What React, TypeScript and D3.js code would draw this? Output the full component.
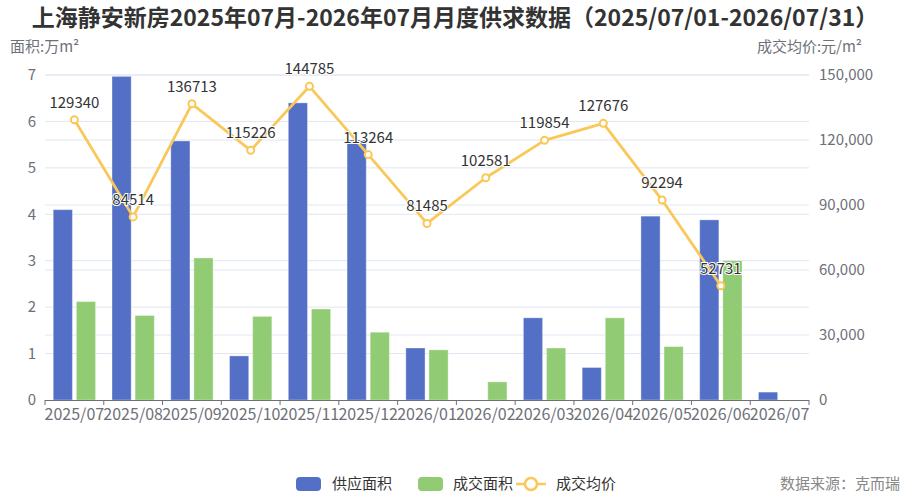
import { useEffect } from 'react';
import * as d3 from 'd3';

const months = [
  '2025/07', '2025/08', '2025/09', '2025/10', '2025/11', '2025/12', '2026/01',
  '2026/02', '2026/03', '2026/04', '2026/05', '2026/06', '2026/07',
];
// 万m²
const supplyArea = [4.1, 6.97, 5.58, 0.95, 6.4, 5.6, 1.12, 0, 1.77, 0.7, 3.96, 3.88, 0.17];
const dealArea = [2.12, 1.82, 3.06, 1.8, 1.96, 1.46, 1.08, 0.39, 1.12, 1.77, 1.15, 3.0, 0];
// 元/m²
const avgPrice: (number | null)[] = [
  129340, 84514, 136713, 115226, 144785, 113264, 81485, 102581, 119854, 127676, 92294, 52731, null,
];
const leftTicks = [0, 1, 2, 3, 4, 5, 6, 7];
const rightTicks = [0, 30000, 60000, 90000, 120000, 150000];

const W = 910;
const H = 500;
const FONT = '"Noto Sans CJK SC", "Noto Sans", sans-serif';
const BLUE = '#5470c6';
const GREEN = '#91cc75';
const YELLOW = '#fac858';
const AXIS = '#6e7079';
const GRID = '#e0e6f1';

export default function App() {
  useEffect(() => {
    document.body.style.margin = '0';
  }, []);

  const plot = { left: 45, right: 809, top: 75, bottom: 400 };

  const x = d3.scaleBand<string>().domain(months).range([plot.left, plot.right]).padding(0);
  const bw = x.bandwidth();
  const sub = d3.scaleBand<string>()
    .domain(['supply', 'deal'])
    .range([bw * 0.14, bw * 0.86])
    .paddingInner(0.17);
  const yL = d3.scaleLinear().domain([0, 7]).range([plot.bottom, plot.top]);
  const yR = d3.scaleLinear().domain([0, 150000]).range([plot.bottom, plot.top]);

  const pricePts = avgPrice
    .map((v, i) => ({ m: months[i], v }))
    .filter(d => d.v !== null) as { m: string; v: number }[];
  const line = d3.line<{ m: string; v: number }>()
    .x(d => x(d.m)! + bw / 2)
    .y(d => yR(d.v));

  const fmt = d3.format(',');

  return (
    <svg width={W} height={H} style={{ display: 'block', background: '#fff' }} fontFamily={FONT}>
      {/* title */}
      <text x={W / 2} y={26} textAnchor="middle" fontSize={23} fontWeight="bold" fill="#333">
        上海静安新房2025年07月-2026年07月月度供求数据（2025/07/01-2026/07/31）
      </text>

      {/* axis names */}
      <text x={10} y={52} fontSize={15} fill={AXIS}>面积:万m²</text>
      <text x={862} y={52} fontSize={15} fill={AXIS} textAnchor="end">成交均价:元/m²</text>

      {/* grid lines for both axes */}
      {leftTicks.slice(1).map(t => (
        <line key={'gl' + t} x1={plot.left} x2={plot.right} y1={yL(t)} y2={yL(t)} stroke={GRID} />
      ))}
      {rightTicks.slice(1).map(t => (
        <line key={'gr' + t} x1={plot.left} x2={plot.right} y1={yR(t)} y2={yR(t)} stroke={GRID} />
      ))}

      {/* left axis labels */}
      {leftTicks.map(t => (
        <text key={'tl' + t} x={36} y={yL(t)} dy="0.35em" textAnchor="end" fontSize={15} fill={AXIS}>
          {t}
        </text>
      ))}
      {/* right axis labels */}
      {rightTicks.map(t => (
        <text key={'tr' + t} x={819} y={yR(t)} dy="0.35em" fontSize={15} fill={AXIS}>
          {fmt(t)}
        </text>
      ))}

      {/* bars */}
      {months.map((m, i) => (
        <g key={'b' + m} transform={`translate(${x(m)},0)`}>
          {supplyArea[i] > 0 && (
            <rect
              x={sub('supply')}
              y={yL(supplyArea[i])}
              width={sub.bandwidth()}
              height={plot.bottom - yL(supplyArea[i])}
              fill={BLUE}
              stroke="#fff"
              strokeOpacity={0.35}
            />
          )}
          {dealArea[i] > 0 && (
            <rect
              x={sub('deal')}
              y={yL(dealArea[i])}
              width={sub.bandwidth()}
              height={plot.bottom - yL(dealArea[i])}
              fill={GREEN}
              stroke="#fff"
              strokeOpacity={0.35}
            />
          )}
        </g>
      ))}

      {/* x axis */}
      <line x1={plot.left} x2={plot.right} y1={plot.bottom + 0.5} y2={plot.bottom + 0.5} stroke={AXIS} />
      {[...months.map(m => x(m)!), plot.right].map((px, i) => (
        <line key={'xt' + i} x1={px} x2={px} y1={plot.bottom} y2={plot.bottom + 5} stroke={AXIS} />
      ))}
      {months.map(m => (
        <text key={'xl' + m} x={x(m)! + bw / 2} y={plot.bottom + 20} textAnchor="middle" fontSize={16} fill={AXIS}>
          {m}
        </text>
      ))}

      {/* average price line */}
      <path d={line(pricePts) ?? ''} fill="none" stroke={YELLOW} strokeWidth={2.8} strokeLinejoin="round" />
      {pricePts.map(d => (
        <circle
          key={'p' + d.m}
          cx={x(d.m)! + bw / 2}
          cy={yR(d.v)}
          r={3.5}
          fill="#fff"
          stroke={YELLOW}
          strokeWidth={2}
        />
      ))}
      {pricePts.map(d => (
        <text
          key={'pl' + d.m}
          x={x(d.m)! + bw / 2}
          y={yR(d.v) - 12}
          textAnchor="middle"
          fontSize={15}
          fill="#333"
          stroke="#fff"
          strokeWidth={2}
          paintOrder="stroke"
        >
          {d.v}
        </text>
      ))}

      {/* legend */}
      <g fontSize={15} fill="#333">
        <rect x={296} y={477} width={25} height={14} rx={4} fill={BLUE} />
        <text x={332} y={484} dy="0.35em">供应面积</text>
        <rect x={418} y={477} width={25} height={14} rx={4} fill={GREEN} />
        <text x={453} y={484} dy="0.35em">成交面积</text>
        <line x1={516} x2={546} y1={484} y2={484} stroke={YELLOW} strokeWidth={2.5} />
        <circle cx={531} cy={484} r={6} fill="#fff" stroke={YELLOW} strokeWidth={2.5} />
        <text x={556} y={484} dy="0.35em">成交均价</text>
      </g>
      <text x={900} y={484} dy="0.35em" textAnchor="end" fontSize={15} fill="#888">
        数据来源：克而瑞
      </text>
    </svg>
  );
}
